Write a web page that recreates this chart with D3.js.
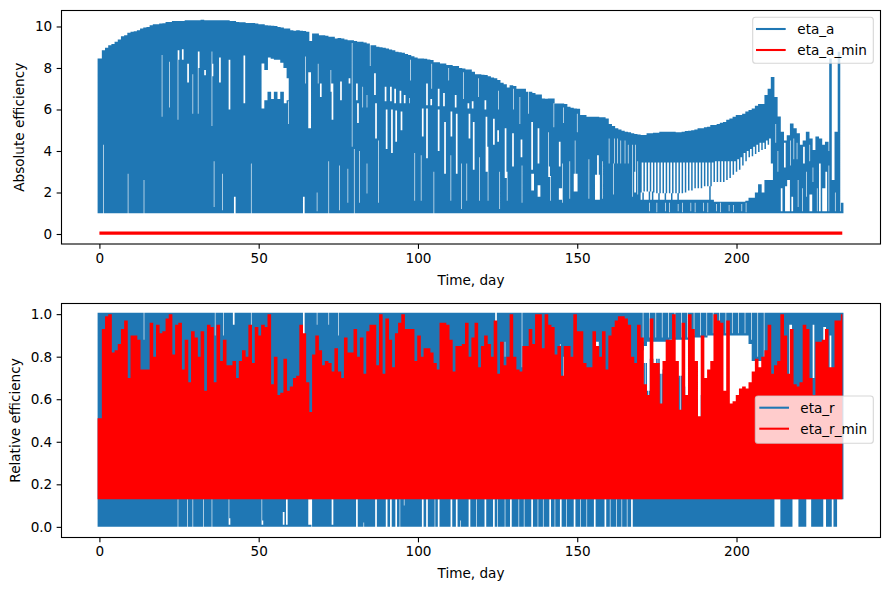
<!DOCTYPE html>
<html><head><meta charset="utf-8">
<script src="https://cdn.jsdelivr.net/npm/d3@7"></script>
<style>
html,body{margin:0;padding:0;background:#fff}
text{font-family:"DejaVu Sans",sans-serif;font-size:13.6px;fill:#000}
</style></head><body><svg id="c" width="889" height="590"></svg>
<script>
const etaATop=[8.46,8.86,8.97,9.1,9.15,9.26,9.37,9.53,9.58,9.7,9.74,9.77,9.82,9.9,9.95,9.98,10.06,10.11,10.11,10.14,
10.16,10.22,10.22,10.26,10.26,10.27,10.27,10.3,10.3,10.3,10.3,10.3,10.32,10.3,10.3,10.3,10.3,10.3,10.3,10.3,
10.3,10.26,10.26,10.22,10.2,10.2,10.17,10.17,10.17,10.14,10.11,10.11,10.06,10.05,10.03,10.02,9.98,9.95,9.9,9.9,
9.82,9.8,9.82,9.8,9.78,9.74,9.3,9.66,9.66,9.58,9.58,9.55,9.5,9.5,9.42,9.45,9.42,9.37,9.34,9.34,
9.3,9.26,9.26,9.23,9.18,9.1,9.1,9.02,9,8.97,8.94,8.89,8.86,8.78,8.76,8.73,8.67,8.62,8.57,8.5,
8.46,8.46,8.44,8.41,8.38,8.28,8.28,8.22,8.22,8.14,8.14,8.1,8.09,8,7.98,7.93,7.93,7.82,7.7,7.7,
7.67,7.66,7.6,7.54,7.5,7.42,7.29,7.22,7.06,7.17,7.13,7,7,7,6.85,6.85,6.8,6.72,6.72,6.53,
6.52,6.53,6.53,6.29,6.29,6.29,6.26,6.13,6.08,6.05,6.03,5.73,5.73,5.65,5.65,5.65,5.65,5.62,5.62,5.57,
5.3,5.2,5.09,5.04,4.98,4.93,4.9,4.85,4.82,4.8,4.77,4.77,4.85,4.85,4.88,4.88,4.93,4.93,4.93,4.93,
4.93,4.9,4.9,4.93,4.96,4.98,5,5.04,5.09,5.1,5.14,5.17,5.25,5.25,5.3,5.36,5.4,5.5,5.57,5.65,
5.73,5.73,5.8,5.9,5.97,6.05,6.18,6.26,6.26,6.7,7,7.57,6.6,5.66,4.93,4.5,4.76,5.33,5.09,4.85,
4.3,4.5,4.93,4.6,4.05,4.7,4.6,4.3,4.45,8.46,3.6,4.93,8.78,1.5];
const etaAGaps=[[1.3,1,4.3,1],[9.1,1,2.9,1],[14.1,1,2.6,1],[19.6,5.65,8.62,1],[21.9,6.1,8.3,1],[24.8,5.5,8.85,1],[24.6,8.4,8.85,2],[26.1,8.4,8.9,2],[27.7,7.3,8.2,2],[29.2,5.8,7.7,1],[31.1,8,8.8,2],[31.1,5.8,8,1],[32.9,7.65,7.9,2],[35.3,5.2,8.8,1],[35.3,7.6,8.2,2],[36,1.3,3.5,1],[37.7,7.3,8.5,2],[38.6,1.15,2.9,1],[40.8,6,8.4,2],[42.3,1,1.8,2],[45.4,6.3,8.6,2],[47.8,1,3.4,1],
[51,6.05,8.22,3],[52,6.45,7.9,3],[53,6.85,8.5,3],[54,6.5,8.45,3],[55,6.85,8.4,3],[56,6.5,8.4,3],[57,6.85,8.25,3],[58,6.3,8,3],[59,6.45,7.5,2],[59.3,5.3,6.4,1],
[64,1,1.8,2],[64.6,7.25,8.55,1],[65.5,5.1,7.8,3],[68.2,1.1,2,1],[68.8,7.25,8.2,1],[69.3,6.6,7.25,2],[71.9,1,3.5,1],[72.6,6.85,7.9,1],[73,5.5,7.25,2],[75.4,1.15,3.3,1],[75.8,6.45,7.35,2],[77.9,1.5,3.15,1],[78.2,7.25,7.5,2],[79.2,4.2,9.2,1],[80,1,4.1,1],[80.8,6.45,7.25,2],[81,5.35,6.3,2],
[81.8,1.5,4,1],[82.7,6.1,7.1,1],[84.1,6.1,6.7,1],[84,1.95,3.4,1],[85,8.1,9.1,1],[86.2,6.7,7.75,2],[86.5,4.6,6.3,2],[87.6,1.5,4.5,1],[89.7,6.4,7.1,2],[90,4.1,6,2],[91.3,6.4,7.1,2],[91.5,3.9,6,2],[92.8,6.3,7,2],[93,4.45,5.95,2],[94.2,6.3,6.9,2],[94.6,5,5.9,2],[95.8,6.3,6.7,2],[97.3,6.3,6.55,1],[97.5,7.4,8.4,1],[99,1.6,3.9,1],[100.9,1.6,3.8,1],[101.2,4.7,6.05,2],[102.6,6.2,7.25,2],[102.8,3.65,6.05,2],[104,6.2,6.5,2],[104.3,7,8.2,1],[104.9,1.0,3,1],[106.4,6.15,7,2],[106.4,4,6,2],[108,6.15,6.8,2],[108.2,2.9,5.4,2],[109.6,7.4,8,1],[110.3,1.6,3.8,1],[110.4,4.7,5.9,2],[111.7,6.1,6.7,2],[112,2.9,5.8,2],[113.8,1.2,3.4,1],[114.3,6.5,7.8,1],[115.3,1.6,3.4,1],[115.5,6.05,6.3,2],[115.9,4.6,5.8,2],[117.1,6.05,6.4,2],[117.4,3.1,5.4,2],[119,6.6,7.5,1],[119.3,1.6,3.7,1],[120.9,6,6.45,2],[121.4,3,5.65,2],[122.1,1.6,4.2,1],[123.5,4.3,5.55,2],[125,4.45,5,2],[125.2,6,6.9,1],[125.5,1.2,3,1],[127.4,2.7,5.1,2],[127.9,1.6,3,1],[129.8,3.25,4.85,2],[130,6,7,1],[132.3,3.7,4.55,2],[132.1,5.3,6.6,1],[132.6,1.5,3.3,1],[134.7,5.8,6.9,1],[135.5,3.1,5.4,2],[135.5,2.1,2.9,3],[137.8,3.4,5.1,2],[137.8,1.8,2.35,3],[141,3.25,4.9,1],[141,2.75,3.25,2],[141.5,1.6,2.8,1],[142.5,5.15,6.3,1],[144.4,3.25,4.45,2],[144.4,1.65,2.2,3],[145.2,1.5,3.4,1],[145.7,5.35,6.1,1],[147.8,1.7,3.5,1],[149,2.05,2.9,4],[149.4,2.9,4.5,1],[149.9,4.9,5.8,1],[153.5,1.7,3.6,1],[155.8,1.65,2.85,5],[156.3,2.85,3.8,2],[158,1.7,3.5,1],
[160,3.4,4.6,1],[161.4,1.9,3.4,1],[161.5,3.4,4.6,1],[162.6,3.4,4.6,1],[163.6,3.4,4.5,1],[165.1,3.4,4.5,1],[166,3.4,4.3,1],[167.2,1.8,4.3,1],[168.2,3,4.3,1],[167.9,2,3,2],[169,1.9,3.5,1],
[175,1.05,1.5,1],[179,1.05,1.5,1],[183,1.05,1.5,1],[187,1.05,1.5,1],[191,1.05,1.5,1],[195,1.05,1.5,1],[199,1.05,1.4,1],[203,1.05,1.5,1],
[172.67,1.1,1.5,1],[177.67,1.1,1.5,1],[181.67,1.1,1.45,1],[185.67,1.1,1.5,1],[189.67,1.1,1.5,1],[193.67,1.1,1.45,1],[197.67,1.1,1.4,1],[201.67,1.1,1.45,1],
[211,2.6,3.4,2],[212.33,4.4,5.3,1],[213,3,4,1],[214,1.1,2.2,2],[215,3.2,4.4,2],[215.33,1.1,2.3,2],[216,1.1,2.6,3],[217,3.3,4.5,1],[217.33,1.1,1.8,2],[218,3.6,4.6,1],[219.33,1.3,2.6,1],[219,3.6,4.4,1],[220.67,1.1,2.2,1],[221,3.4,4.2,2],[222,1.8,3,1],[223,1.1,1.9,3],[223,3.5,4.3,1],[224,2.5,3.2,1],[225.33,1.1,2.2,1],[226,1.1,3.4,2],[227,1.1,2.2,3],[228,1.1,3,2],[229,4,9,1],[229,1.1,3.3,1],[230,2.6,3.6,3],[231,1.1,2,1],[232.67,1.1,9,1]];
// lower white area of eta_a, one entry per day from day 170 to day 210
const etaAWhiteStart=170;
const etaAWhiteHi=[2,2.05,2.05,2.05,2,1.96,1.96,1.96,1.96,1.96,1.96,1.96,1.96,1.96,2,2.1,2.1,2.2,2.2,2.2,2.3,2.3,2.3,2.5,2.5,2.5,2.5,2.6,2.7,2.85,3,3.1,3.3,3.5,3.7,3.75,3.85,3.95,4.05,4.1,4.3];
const etaAWhiteLo=[1.65,1.65,1.65,1.65,1.65,1.65,1.65,1.65,1.65,1.65,1.65,1.65,1.65,1.65,1.65,1.65,1.65,1.65,1.65,1.65,1.65,1.65,1.65,1.55,1.55,1.55,1.55,1.55,1.55,1.55,1.55,1.55,1.55,1.6,1.75,1.75,2,2.4,2,2.6,2.6];
const etaAWhiteCount=[2,3,2,2,3,2,3,2,3,2,3,2,3,3,3,3,3,3,3,3,3,2,3,3,3,3,3,3,3,3,3,3,3,3,3,3,3,3,3,3,3];
const etaASlitHi=[3.45,3.45,3.45,3.45,3.45,3.45,3.45,3.45,3.45,3.45,3.45,3.45,3.45,3.45,3.45,3.45,3.45,3.45,3.45,3.45,3.45,3.45,3.45,3.5,3.5,3.5,3.5,3.5,3.5,3.5,3.6,3.7,3.9,4,4.1,4.2,4.3,4.4,4.4,4.5,4.6];
const etaAMin=[0.04,0.04];
const etaAMinDays=[0,233.2];
const etaRPeak=[.51,.93,.99,1,.82,.83,.86,.93,.97,.7,.9,.9,.88,.74,.74,.74,.96,.8,.95,.91,
.92,.98,1,.81,.95,.96,.74,.88,.68,.92,.89,.8,.92,.64,.95,.94,.68,.95,.78,.88,
.76,.76,.78,.7,.78,.83,.8,.95,.77,.94,.9,.95,.94,1,.67,.8,.62,.63,.79,.64,
.66,.7,.71,.95,.91,.68,.54,.81,.9,.83,.76,.78,.77,.73,.84,.73,.7,.89,.82,.82,
.93,.8,.89,.72,.92,.95,.95,.76,1,.72,.98,.88,.75,.91,.96,1,.93,.93,.93,.78,
.9,.8,.84,.84,.82,.77,.74,.96,.96,.95,.88,.73,.85,.85,.86,.96,.8,.89,.96,.75,
.85,.9,.86,.8,.97,.72,.87,.76,.8,1,.8,.74,.73,.85,.85,.93,.86,1,1,.84,
1,.95,.94,.81,.85,.71,.85,.85,.8,1,.92,.92,.77,.75,.75,.92,.85,.8,.92,.74,
.9,.94,.97,.99,.99,.98,.95,.8,.77,.95,.89,.67,.62,.98,.77,.77,.58,.78,.88,.88,
1,.78,.55,.96,.62,1,.93,.78,.52,.9,.7,.74,.78,1,.97,.96,.64,.97,.58,.59,
.62,.65,.66,.65,.68,.73,.79,.75,.8,.83,.95,.72,.76,.78,1,.9,.72,.93,.67,.66,
.68,.95,.93,.7,.62,.87,.87,.88,.93,.75,.75,.97,.97,1];
const etaRBase=0.13;
const etaRGaps=[[14.1,.88,1.01,1],[24.8,0,.13,1],[27.7,0,.13,1],[29.2,0,.13,1],[32.6,0,.13,1],[35.3,0,.13,1],[36.3,.9,1.01,1],[39,.9,1.01,1],[40.5,.01,.04,2],[40.5,.04,.13,1],[41.9,.95,1.01,2],[47.8,.75,1.01,1],[51,.01,.03,2],[51,.03,.13,1],[57.6,.01,.07,2],[58.6,.01,.13,2],[64,.88,1.01,2],[65.6,.01,.13,3],[66.5,0,.13,1],[68.2,.95,1.01,1],[71.9,.95,1.01,1],[73,.01,.13,2],[75,.9,1.01,1],[80.8,0,.13,2],
[82.9,0,.02,1],[86.5,0,.13,2],[90,0,.13,2],[91.3,0,.13,2],[93,0,.13,2],[94.4,0,.13,1],[95.8,.1,.13,1],[101.2,0,.13,2],[102.6,0,.13,2],[105.2,0,.13,1],[106.4,0,.13,2],[110.3,0,.13,2],[112,0,.13,2],[113.4,0,.03,1],[115.9,0,.13,2],[118.3,0,.13,1],[121.1,0,.13,2],[123.5,0,.13,2],[124.4,.95,1.01,2],[125,0,.13,1],[127.4,0,.13,1],[127.4,.8,.87,1],[128.9,0,.13,2],[131.6,0,.13,1],[132.6,.75,1.01,1],[133.4,0,.13,1],[135.5,0,.13,2],[137.8,0,.13,1],[137.8,.75,.85,1],[139.4,0,.13,1],[141.2,0,.13,2],[143,0,.13,1],[144.6,.68,.86,1],[144.8,0,.13,2],[145.7,.6,.8,1],[146.7,0,.13,1],[149,0,.13,2],[150.9,0,.13,1],[153,0,.13,1],[155.4,0,.13,2],[155.6,.78,.87,4],[158.8,0,.13,2],[160.3,0,.13,1],[162.4,0,.13,1],[164,0,.13,1],[165.6,0,.13,1],[167.1,0,.13,2],
[170.67,.87,1.01,1],[172.67,.89,1.01,1],[174.67,.89,1.01,1],[176.67,.89,1.01,1],[178.67,.89,1.01,1],[180.67,.89,1.01,1],[182.67,.89,1.01,1],[184.67,.89,1.01,1],[186.67,.9,1.01,1],[188.67,.9,1.01,1],[190.67,.9,1.01,1],[192.67,.91,1.01,1],[194.67,.91,1.01,1],[196.67,.91,1.01,1],[198.67,.91,1.01,1],[200.67,.91,1.01,1],[202.67,.91,1.01,1],[204.67,.88,1.01,1],[206.67,.8,1.01,1],[208.67,.8,1.01,1],
[211.9,0,.13,6],[212.3,.6,.75,3],[216.8,.68,.95,3],[217.7,0,.13,6],[221.9,0,.13,5],[224,.7,.95,2],[227.3,0,.13,3],[227.3,.85,.94,3],[229.4,.6,.9,2],[230,0,.13,2],[231.67,0,.13,6]];
// white area of eta_r above the red, one entry per day from day 170 to day 210
const etaRWhiteStart=170;
const etaRWhiteHi=[.83,.85,.87,.87,.87,.87,.87,.87,.87,.88,.88,.88,.88,.88,.88,.88,.89,.89,.89,.89,.89,.9,.9,.9,.9,.9,.9,.9,.9,.9,.9,.9,.9,.9,.86,.78,.78,.78,.78,.75,.75];
const etaRWhiteLo=[.64,.77,.64,.79,.7,.79,.72,.74,.77,.68,.78,.7,.71,.66,.62,.6,.55,.6,.5,.62,.5,.55,.5,.55,.5,.5,.45,.5,.45,.5,.5,.5,.5,.45,.5,.5,.5,.55,.55,.6,.6];
const xTicks=[0,50,100,150,200];
const yTicksA=[0,2,4,6,8,10];
const yTicksR=[0,.2,.4,.6,.8,1];
const legendA=["eta_a","eta_a_min"];
const legendR=["eta_r","eta_r_min"];
const BLUE="#1f77b4",RED="#ff0000";

const allAGaps=etaAGaps.concat(
  etaAWhiteHi.map((h,i)=>[etaAWhiteStart+i,etaAWhiteLo[i],h,etaAWhiteCount[i]]),
  etaASlitHi.map((h,i)=>[etaAWhiteStart+i+1/3,etaAWhiteHi[i],h,2]));
const allRGaps=etaRGaps.concat(
  etaRWhiteHi.map((h,i)=>[etaRWhiteStart+i,etaRWhiteLo[i],h,3]),
  etaRWhiteLo.map((l,i)=>[etaRWhiteStart+i+1/3,.35,l,1]));

const svg=d3.select("#c");
const L=61.5,R=880.5;
const x=d3.scaleLinear().domain([-11.9,245.2]).range([L,R]);
const yA=d3.scaleLinear().domain([-0.482,10.77]).range([244,10.5]);
const yR=d3.scaleLinear().domain([-0.05,1.05]).range([537.5,303.5]);

function strokes(y,getRange,gaps,lastT){
  const p=d3.path();
  for(let k=-1;k/3<=lastT+1e-6;k++){
    const t=k/3,[lo,hi]=getRange(t);
    const cuts=gaps.filter(g=>{const k0=Math.round(g[0]*3);return k>=k0&&k<k0+g[3]}).map(g=>[g[1],g[2]]).sort((a,b)=>a[0]-b[0]);
    let cur=lo;
    for(const [a,b] of cuts){
      if(a>cur&&cur<hi){p.moveTo(x(t),y(cur));p.lineTo(x(t),y(Math.min(a,hi)));}
      cur=Math.max(cur,b);
    }
    if(cur<hi){p.moveTo(x(t),y(cur));p.lineTo(x(t),y(hi));}
  }
  return p.toString();
}
const at=(arr,t)=>arr[Math.max(0,Math.min(arr.length-1,Math.floor(t+1e-6)))];

function panel(y,top,bottom,ticks,fmt,label,labelX){
  svg.append("g").attr("transform",`translate(0,${bottom})`)
    .call(d3.axisBottom(x).tickValues(xTicks).tickSize(4.86).tickPadding(4.4).tickFormat(d3.format("d")))
    .call(g=>g.select(".domain").remove()).call(g=>g.selectAll("line").attr("stroke","#000").attr("stroke-width",1.1))
    .call(g=>g.selectAll("text").attr("font-size",null).attr("font-family",null));
  svg.append("g").attr("transform",`translate(${L},0)`)
    .call(d3.axisLeft(y).tickValues(ticks).tickSize(4.86).tickPadding(4.4).tickFormat(fmt))
    .call(g=>g.select(".domain").remove()).call(g=>g.selectAll("line").attr("stroke","#000").attr("stroke-width",1.1))
    .call(g=>g.selectAll("text").attr("font-size",null).attr("font-family",null));
  svg.append("text").attr("x",(L+R)/2).attr("y",bottom+40.5).attr("text-anchor","middle").text("Time, day");
  svg.append("text").attr("transform",`translate(${labelX},${(top+bottom)/2}) rotate(-90)`).attr("text-anchor","middle").text(label);
}
function frame(top,bottom){
  svg.append("rect").attr("x",L).attr("y",top).attr("width",R-L).attr("height",bottom-top)
    .attr("fill","none").attr("stroke","#000").attr("stroke-width",1.1);
}
function legend(bx,by,bw,bh,names,hx0,hx1,tx,ys){
  svg.append("rect").attr("x",bx).attr("y",by).attr("width",bw).attr("height",bh).attr("rx",2.8)
    .attr("fill","#fff").attr("fill-opacity",.8).attr("stroke","#ccc").attr("stroke-opacity",.8).attr("stroke-width",1.1);
  names.forEach((n,i)=>{
    svg.append("line").attr("x1",hx0).attr("x2",hx1).attr("y1",ys[i]).attr("y2",ys[i])
      .attr("stroke",i?RED:BLUE).attr("stroke-width",2.08);
    svg.append("text").attr("x",tx).attr("y",ys[i]+5).text(n);
  });
}

panel(yA,10.5,244,yTicksA,d3.format("d"),"Absolute efficiency",23.5);
panel(yR,303.5,537.5,yTicksR,d3.format(".1f"),"Relative efficiency",20);

svg.append("path").attr("fill","none").attr("stroke",BLUE).attr("stroke-width",1.5)
  .attr("d",strokes(yA,t=>[1,at(etaATop,t)],allAGaps,233.34));
svg.append("path").attr("fill","none").attr("stroke",RED).attr("stroke-width",3.2)
  .attr("d",d3.line().x((d,i)=>x(etaAMinDays[i])).y(d=>yA(d))(etaAMin));
svg.append("path").attr("fill","none").attr("stroke",BLUE).attr("stroke-width",1.5)
  .attr("d",strokes(yR,t=>[0,1.006],allRGaps,233.34));
svg.append("path").attr("fill","none").attr("stroke",RED).attr("stroke-width",1.5)
  .attr("d",strokes(yR,t=>[etaRBase,at(etaRPeak,t)],[],233.01));

frame(10.5,244);frame(303.5,537.5);
legend(752.7,17.3,120.6,46,legendA,756,785.7,797.3,[29,50]);
legend(755.3,396,118,47.3,legendR,759.3,789,800.3,[407.7,428.7]);
</script></body></html>
